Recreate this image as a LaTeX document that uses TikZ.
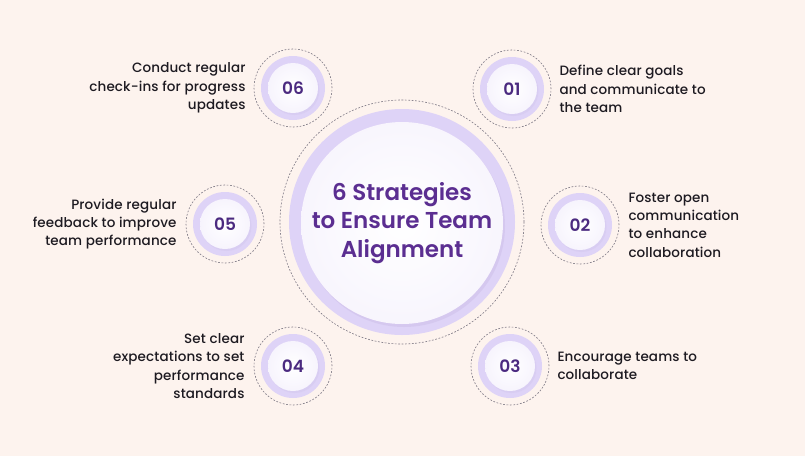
\documentclass[tikz,border=0pt]{standalone}
\usepackage{fontspec}
\setmainfont{Poppins}[UprightFont=* Medium,BoldFont=* SemiBold]
\usetikzlibrary{positioning,shadows}
\definecolor{bgpeach}{HTML}{FDF3EE}
\definecolor{ringlav}{HTML}{DED3F7}
\definecolor{numpurple}{HTML}{4B2A80}
\definecolor{titlepurple}{HTML}{5B2E91}
\definecolor{dashgray}{HTML}{7E7985}
\definecolor{txtdark}{HTML}{1D1A21}

\begin{document}
\begin{tikzpicture}[x=1pt,y=-1pt,
dashring/.style={circle,draw=dashgray,dashed,dash pattern=on 1.8pt off 1.6pt,line width=.6pt,minimum size=#1,inner sep=0pt},
lavdisk/.style={circle,fill=ringlav,minimum size=#1,inner sep=0pt},
numdisk/.style={circle,inner color=white,outer color=ringlav!25,minimum size=50pt,inner sep=0pt,
  font=\fontsize{17}{20}\selectfont\bfseries,text=numpurple,
  drop shadow={shadow xshift=1.5pt,shadow yshift=-2pt,fill=ringlav!90!numpurple,opacity=.35}},
righttxt/.style={align=left,anchor=west,text=txtdark,font=\fontsize{13.5}{18.3}\selectfont\addfontfeatures{LetterSpace=1},inner sep=0pt},
lefttxt/.style={align=right,anchor=east,text=txtdark,font=\fontsize{13.5}{18.3}\selectfont\addfontfeatures{LetterSpace=1},inner sep=0pt}]
\fill[bgpeach] (0,0) rectangle (805,456);
\useasboundingbox (0,0) rectangle (805,456);
% centre
\node[dashring=244pt] (hubring) at (402,222) {};
\node[lavdisk=226pt] (hublav) at (402,222) {};
\node[circle,inner color=white,outer color=ringlav!22,minimum size=202pt,inner sep=0pt,
  drop shadow={shadow xshift=2pt,shadow yshift=-3pt,fill=ringlav!80!numpurple,opacity=.3},
  font=\fontsize{23}{28.5}\selectfont\bfseries,text=titlepurple,align=center] (hub) at (402,223)
  {6 Strategies\\to Ensure Team\\Alignment};
% 01
\node[dashring=78pt] (ring01) at (512,89) {};
\node[lavdisk=64pt] (lav01) at (512,89) {};
\node[numdisk] (num01) at (512,89) {01};
\node[righttxt,right=8pt of ring01] (txt01) {Define clear goals\\and communicate to\\the team};
% 02
\node[dashring=78pt] (ring02) at (580,225) {};
\node[lavdisk=64pt] (lav02) at (580,225) {};
\node[numdisk] (num02) at (580,225) {02};
\node[righttxt,right=9pt of ring02] (txt02) {Foster open\\communication\\to enhance\\collaboration};
% 03
\node[dashring=78pt] (ring03) at (510,366) {};
\node[lavdisk=64pt] (lav03) at (510,366) {};
\node[numdisk] (num03) at (510,366) {03};
\node[righttxt,right=8pt of ring03] (txt03) {Encourage teams to\\collaborate};
% 04
\node[dashring=78pt] (ring04) at (293,366) {};
\node[lavdisk=64pt] (lav04) at (293,366) {};
\node[numdisk] (num04) at (293,366) {04};
\node[lefttxt,left=9pt of ring04] (txt04) {Set clear\\expectations to set\\performance\\standards};
% 05
\node[dashring=78pt] (ring05) at (225,224) {};
\node[lavdisk=64pt] (lav05) at (225,224) {};
\node[numdisk] (num05) at (225,224) {05};
\node[lefttxt,left=9pt of ring05] (txt05) {Provide regular\\feedback to improve\\team performance};
% 06
\node[dashring=78pt] (ring06) at (293,88) {};
\node[lavdisk=64pt] (lav06) at (293,88) {};
\node[numdisk] (num06) at (293,88) {06};
\node[lefttxt,left=8pt of ring06] (txt06) {Conduct regular\\check-ins for progress\\updates};
\end{tikzpicture}
\end{document}
